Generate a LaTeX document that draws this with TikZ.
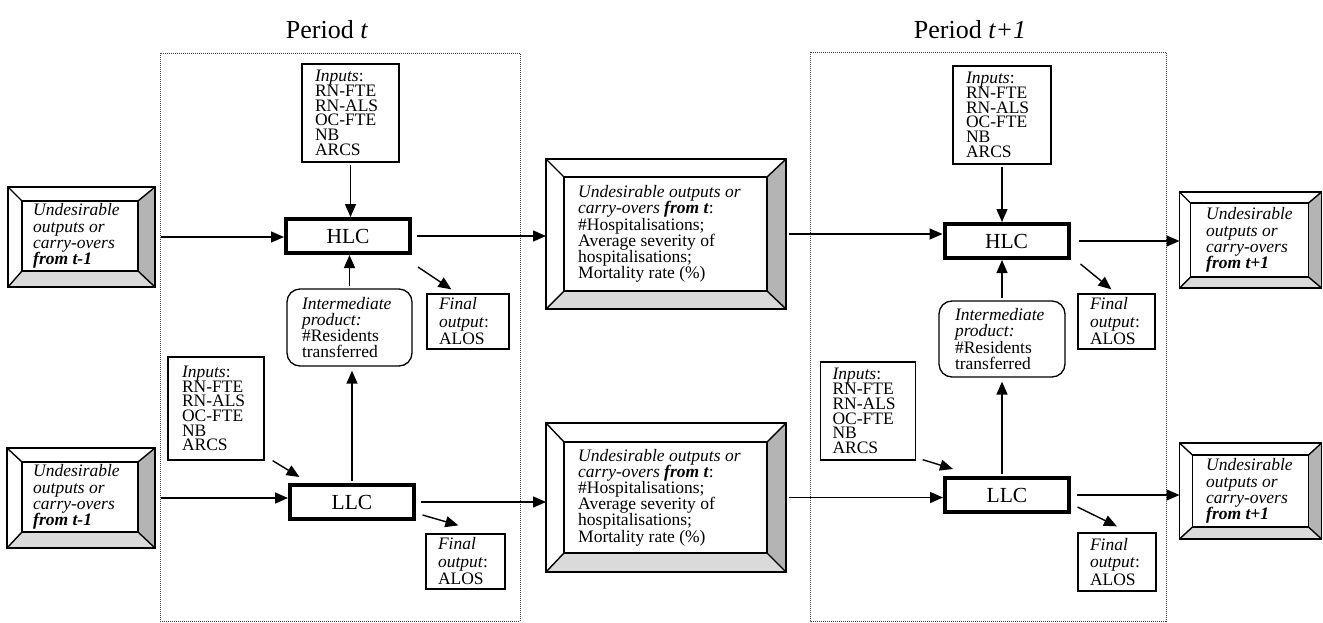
\documentclass[tikz,border=0pt]{standalone}
\usepackage{fontspec}
\setmainfont{Liberation Serif}
\usetikzlibrary{arrows.meta,calc}
\newcommand\mysmall{\fontsize{17.5}{14.7}\selectfont\lineskiplimit=-30pt\relax}
\newcommand\mymid{\fontsize{17.5}{16.2}\selectfont\lineskiplimit=-30pt\relax}
\newcommand\myfin{\fontsize{17.5}{17.5}\selectfont\lineskiplimit=-30pt\relax}
\definecolor{bevR}{HTML}{B4B4B4}
\definecolor{bevB}{HTML}{DADADA}
\tikzset{
  inbox/.style={draw, line width=1.3pt, align=left, inner ysep=0pt, font=\mysmall},
  finbox/.style={draw, line width=1.3pt, align=left, inner ysep=0pt, font=\myfin},
  interbox/.style={draw, line width=1.3pt, rounded corners=13pt, align=left, inner ysep=0pt, font=\mymid},
  procbox/.style={draw, line width=4pt, minimum width=124pt, minimum height=34pt, inner sep=0pt, font=\fontsize{21.5}{24}\selectfont},
  bevnode/.style={inner sep=0pt, outer sep=0pt},
  bevline/.style={line width=1.4pt, line join=miter},
  bevtext/.style={anchor=west, align=left, inner sep=0pt, font=\mymid},
  arr/.style={line width=1.4pt, -{Triangle[length=13pt,width=11pt]}},
  framebox/.style={line width=0.9pt, black!75, dash pattern=on 1pt off 1pt},
  title/.style={font=\fontsize{26}{30}\selectfont, inner sep=0pt}
}
\newcommand\bevel[5]{%
  \coordinate (#1-a) at ([shift={(#2,#3)}]#1.north west);
  \coordinate (#1-b) at ([shift={(-#4,#3)}]#1.north east);
  \coordinate (#1-c) at ([shift={(-#4,-#5)}]#1.south east);
  \coordinate (#1-d) at ([shift={(#2,-#5)}]#1.south west);
  \fill[bevR] (#1.north east) -- (#1.south east) -- (#1-c) -- (#1-b) -- cycle;
  \fill[bevB] (#1.south west) -- (#1.south east) -- (#1-c) -- (#1-d) -- cycle;
  \draw[bevline] (#1.north west) rectangle (#1.south east);
  \draw[bevline] (#1-a) rectangle (#1-c);
  \draw[bevline] (#1.north west) -- (#1-a) (#1.north east) -- (#1-b)
                 (#1.south east) -- (#1-c) (#1.south west) -- (#1-d);
}
\begin{document}
\begin{tikzpicture}[x=1pt,y=-1pt]
\useasboundingbox (0,0) rectangle (1323,622);

% frames
\draw[framebox] (160,53) rectangle (520,621);
\draw[framebox] (810,52) rectangle (1166,621);

% titles
\node[title] (titleT) at (327,30) {Period \textit{t}};
\node[title] (titleT1) at (970,30) {Period \textit{t+1}};

% ---------- period t ----------
\node[inbox, text width=71pt, inner xsep=13pt, minimum height=98pt] (inT) at (350.5,113)
  {\textit{Inputs}:\\RN-FTE\\RN-ALS\\OC-FTE\\NB\\ARCS};
\node[procbox] (hlcT) at (348,236) {HLC};
\node[interbox, text width=95pt, inner xsep=15pt, minimum height=77pt] (intT) at (349.5,327.5)
  {\textit{Intermediate}\\\textit{product:}\\\#Residents\\transferred};
\node[procbox] (llcT) at (352,502) {LLC};
\node[finbox, text width=58pt, inner xsep=12pt, minimum height=55pt] (finHT) at (468,321.5)
  {\textit{Final}\\\textit{output}:\\ALOS};
\node[finbox, text width=55pt, inner xsep=12pt, minimum height=55pt] (finLT) at (465.5,561.5)
  {\textit{Final}\\\textit{output}:\\ALOS};
\node[inbox, text width=68pt, inner xsep=14pt, minimum height=103pt] (inLT) at (216,408.5)
  {\textit{Inputs}:\\RN-FTE\\RN-ALS\\OC-FTE\\NB\\ARCS};

% ---------- period t+1 ----------
\node[inbox, text width=72pt, inner xsep=13pt, minimum height=98pt] (inT1) at (1002,115)
  {\textit{Inputs}:\\RN-FTE\\RN-ALS\\OC-FTE\\NB\\ARCS};
\node[procbox] (hlcT1) at (1006.5,241) {HLC};
\node[interbox, text width=94pt, inner xsep=16pt, minimum height=76pt] (intT1) at (1002,339)
  {\textit{Intermediate}\\\textit{product:}\\\#Residents\\transferred};
\node[procbox] (llcT1) at (1007,495) {LLC};
\node[finbox, text width=53pt, inner xsep=12pt, minimum height=55pt] (finHT1) at (1116.5,321.5)
  {\textit{Final}\\\textit{output}:\\ALOS};
\node[finbox, text width=54pt, inner xsep=12pt, minimum height=58pt] (finLT1) at (1117,562)
  {\textit{Final}\\\textit{output}:\\ALOS};
\node[inbox, text width=71pt, inner xsep=12pt, minimum height=98pt] (inLT1) at (868,411)
  {\textit{Inputs}:\\RN-FTE\\RN-ALS\\OC-FTE\\NB\\ARCS};

% ---------- bevelled boxes ----------
\node[bevnode, minimum width=147pt, minimum height=100pt] (ulT) at (81.5,237) {};
\bevel{ulT}{14}{14}{17}{16}
\node[bevtext] (ulT-t) at (33,236)
  {\textit{Undesirable}\\\textit{outputs or}\\\textit{carry-overs}\\\textbf{\textit{from t-1}}};

\node[bevnode, minimum width=148pt, minimum height=100pt] (ulB) at (81,498) {};
\bevel{ulB}{15}{14}{17}{16}
\node[bevtext] (ulB-t) at (33,497)
  {\textit{Undesirable}\\\textit{outputs or}\\\textit{carry-overs}\\\textbf{\textit{from t-1}}};

\node[bevnode, minimum width=240pt, minimum height=150pt] (umT) at (666,234) {};
\bevel{umT}{18}{18}{19}{18}
\node[bevtext] (umT-t) at (578,234)
  {\textit{Undesirable outputs or}\\\textit{carry-overs} \textbf{\textit{from t}}:\\\#Hospitalisations;\\Average severity of\\hospitalisations;\\Mortality rate (\%)};

\node[bevnode, minimum width=240pt, minimum height=149pt] (umB) at (666,497.5) {};
\bevel{umB}{18}{19}{19}{19}
\node[bevtext] (umB-t) at (578,497.5)
  {\textit{Undesirable outputs or}\\\textit{carry-overs} \textbf{\textit{from t}}:\\\#Hospitalisations;\\Average severity of\\hospitalisations;\\Mortality rate (\%)};

\node[bevnode, minimum width=142pt, minimum height=96pt] (urT) at (1250.5,240) {};
\bevel{urT}{11}{11}{13}{11}
\node[bevtext] (urT-t) at (1206,240)
  {\textit{Undesirable}\\\textit{outputs or}\\\textit{carry-overs}\\\textbf{\textit{from t+1}}};

\node[bevnode, minimum width=142pt, minimum height=96pt] (urB) at (1250.5,491) {};
\bevel{urB}{13}{12}{13}{12}
\node[bevtext] (urB-t) at (1206,491)
  {\textit{Undesirable}\\\textit{outputs or}\\\textit{carry-overs}\\\textbf{\textit{from t+1}}};

% ---------- connectors: period t ----------
\draw[arr, shorten <=2pt] (inT.south) -- (inT.south |- hlcT.north);
\draw[arr, shorten <=2pt] (intT.north) -- (intT.north |- hlcT.south);
\draw[arr, shorten <=2pt, shorten >=4pt] (llcT.north) -- (llcT.north |- intT.south);
\draw[arr, shorten <=6pt] (ulT.east) -- (ulT.east -| hlcT.west);
\draw[arr, shorten <=6pt] (ulB.east) -- (ulB.east -| llcT.west);
\draw[arr, shorten <=5pt] (hlcT.east) -- (hlcT.east -| umT.west);
\draw[arr, shorten <=5pt] (llcT.east) -- (llcT.east -| umB.west);
\draw[arr] ([shift={(6,12)}]hlcT.south east) -- ([shift={(25,-4)}]finHT.north west);
\draw[arr] ([shift={(6.5,-6)}]llcT.south east) -- ([shift={(33,-8)}]finLT.north west);
\draw[arr] ([shift={(8,0)}]inLT.south east) -- ([shift={(11.5,-6)}]llcT.north west);

% ---------- connectors: period t+1 ----------
\draw[arr, shorten <=2pt] (inT1.south) -- (inT1.south |- hlcT1.north);
\draw[arr, shorten <=2pt] (intT1.north) -- (intT1.north |- hlcT1.south);
\draw[arr, shorten <=2pt, shorten >=4pt] (intT1.south |- llcT1.north) -- (intT1.south);
\draw[arr, shorten <=3pt] (umT.east) -- (umT.east -| hlcT1.west);
\draw[arr, shorten <=3pt] (umB.east) -- (umB.east -| llcT1.west);
\draw[arr, shorten <=8pt] (hlcT1.east) -- (hlcT1.east -| urT.west);
\draw[arr, shorten <=6pt] (llcT1.east) -- (llcT1.east -| urB.west);
\draw[arr] ([shift={(10,4)}]hlcT1.south east) -- ([shift={(34,-4)}]finHT1.north west);
\draw[arr] ([shift={(6.5,-7)}]llcT1.south east) -- ([shift={(39.6,-6)}]finLT1.north west);
\draw[arr] ([shift={(6.5,-1)}]inLT1.south east) -- ([shift={(10,-7)}]llcT1.north west);
\end{tikzpicture}
\end{document}
